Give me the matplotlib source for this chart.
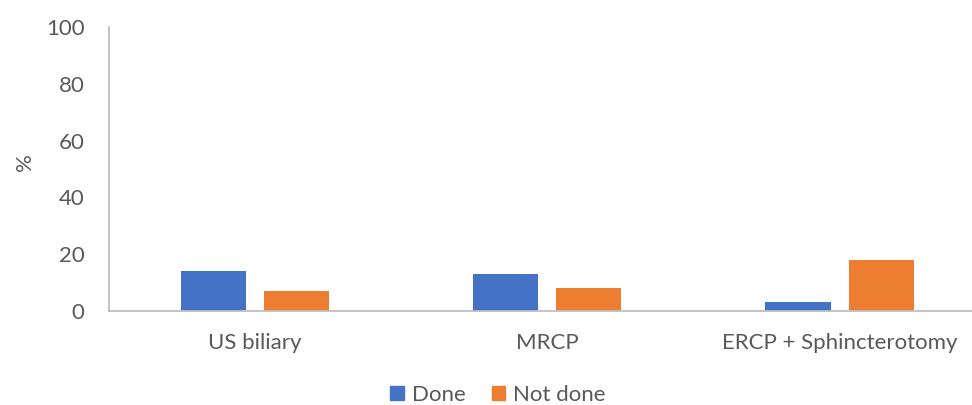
import matplotlib
matplotlib.use("Agg")
import matplotlib.pyplot as plt
import numpy as np
from matplotlib.patches import Patch

categories = ["US biliary", "MRCP", "ERCP + Sphincterotomy"]
done = [14, 13, 3]
not_done = [7, 8, 18]
series_names = ["Done", "Not done"]
yticks = [0, 20, 40, 60, 80, 100]

plt.rcParams['font.family'] = ['Lato', 'DejaVu Sans']
text_color = "#595959"
axis_color = "#bfbfbf"
c_done = "#4472C4"
c_nd = "#ED7D31"

W, H = 972, 405
fig = plt.figure(figsize=(W / 100, H / 100), dpi=100)
left = 108.7 / W
right = 985.7 / W
bottom = (H - 310.7) / H
top = (H - 27.3) / H
ax = fig.add_axes([left, bottom, right - left, top - bottom])

x = np.arange(len(categories))
bw = 0.2225
off = 0.142
ax.bar(x - off, done, width=bw, color=c_done, label=series_names[0], zorder=3)
ax.bar(x + off, not_done, width=bw, color=c_nd, label=series_names[1], zorder=3)

ax.set_xlim(-0.5, len(categories) - 0.5)
ax.set_ylim(0, 100)
ax.set_yticks(yticks)
ax.set_xticks(x)
ax.set_xticklabels(categories)
ax.tick_params(axis='both', length=0, labelsize=16, colors=text_color)
ax.tick_params(axis='y', pad=17.5)
ax.tick_params(axis='x', pad=16)
for s in ["top", "right"]:
    ax.spines[s].set_visible(False)
for s in ["left", "bottom"]:
    ax.spines[s].set_color(axis_color)
    ax.spines[s].set_linewidth(1.3)
ax.spines["bottom"].set_zorder(4)

fig.text(25 / W, (H - 162) / H, "%", rotation=90, ha="center", va="center",
         fontsize=16, color=text_color)

handles = [Patch(color=c_done), Patch(color=c_nd)]
fig.legend(handles, series_names, loc="center", bbox_to_anchor=(498 / W, (H - 395) / H),
           ncol=2, frameon=False, fontsize=16, labelcolor=text_color,
           handlelength=0.6, handleheight=0.6, handletextpad=0.35, columnspacing=1.2,
           borderpad=0.1)

fig.savefig("out.png", dpi=100)
